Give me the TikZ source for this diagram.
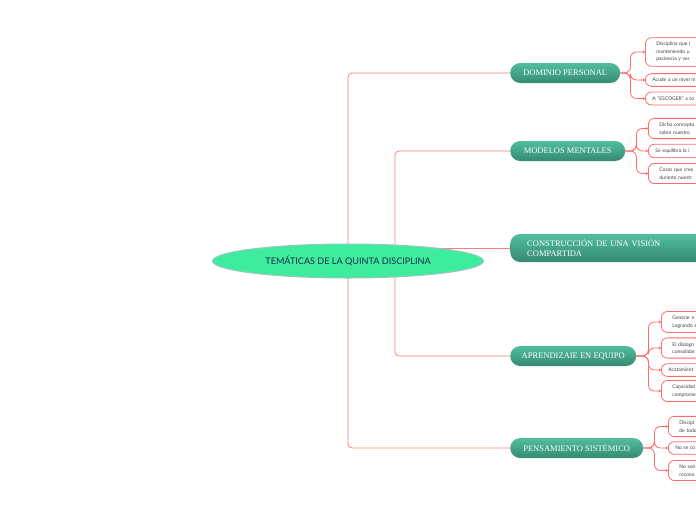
\documentclass[tikz,border=0pt]{standalone}
\usepackage{fontspec}
\setmainfont{Lato}
\newfontfamily\slabfont{Liberation Serif}
\usetikzlibrary{arrows.meta,shapes.geometric,backgrounds}
\definecolor{linkred}{HTML}{FF7B7B}
\definecolor{leafred}{HTML}{FF6A6A}
\definecolor{tealtop}{HTML}{52BE9F}
\definecolor{tealbot}{HTML}{348A70}
\definecolor{mint}{HTML}{3DEC9D}
\definecolor{rimgray}{HTML}{9DC3C4}
\definecolor{navy}{HTML}{1A2B48}

\begin{document}
\begin{tikzpicture}[x=1pt,y=-1pt,
    rootnode/.style={ellipse, fill=mint, draw=rimgray, line width=1pt, minimum width=271pt, minimum height=34pt, inner sep=0pt, text=navy, font=\fontsize{9.1}{11}\selectfont},
    mainnode/.style={rectangle, rounded corners=10pt, top color=tealtop, bottom color=tealbot, draw=none, text=white, minimum height=20pt, inner sep=0pt, anchor=west, font=\slabfont\fontsize{8.5}{10}\selectfont},
    leafnode/.style={rectangle, rounded corners=6pt, draw=leafred, fill=white, line width=0.8pt, anchor=west, text width=80pt, align=left, inner ysep=4.5pt, inner xsep=7pt, text=black!75, font=\fontsize{5}{7.5}\selectfont},
    longleaf/.style={leafnode, inner xsep=11pt},
    conn/.style={draw=linkred, line width=0.8pt, rounded corners=4pt},
    twig/.style={draw=leafred, line width=0.8pt, rounded corners=6pt, -{Triangle[length=2pt,width=3pt]}}]
  \useasboundingbox (0,0) rectangle (696,520);
  \clip (0,0) rectangle (696,520);

  \node[rootnode] (root) at (348,261) {TEMÁTICAS DE LA QUINTA DISCIPLINA};

  \node[mainnode, minimum width=110pt] (dom) at (510,73) {DOMINIO PERSONAL};
  \node[mainnode, minimum width=115pt] (mod) at (510,151) {MODELOS MENTALES};
  \node[mainnode, minimum height=28pt, text width=190pt, inner xsep=17pt, align=left] (con) at (510,248) {CONSTRUCCIÓN DE UNA VISIÓN\\COMPARTIDA};
  \node[mainnode, minimum width=126pt] (apr) at (510,356) {APRENDIZAIE EN EQUIPO};
  \node[mainnode, minimum width=133pt] (pen) at (510,448) {PENSAMIENTO SISTÉMICO};

  \node[longleaf] (d1) at (645,52) {Disciplina que l\\manteniendo u\\paciencia y ver};
  \node[leafnode] (d2) at (645,80) {Acude a un nivel m};
  \node[leafnode] (d3) at (645,98.5) {A "ESCOGER" a to};

  \node[longleaf] (m1) at (648,128.5) {Dicho concepto\\sobre nuestro};
  \node[leafnode] (m2) at (648,151) {Se equilibra la i};
  \node[longleaf] (m3) at (648,173.5) {Cosas que crea\\durante nuestr};

  \node[longleaf] (a1) at (661,322) {Generar e\\Logrando e};
  \node[longleaf] (a2) at (661,348) {El dialogo\\consolidar};
  \node[leafnode] (a3) at (661,370) {Acatamient};
  \node[longleaf] (a4) at (661,391) {Capacidad\\comprome};

  \node[longleaf] (p1) at (668,426.5) {Discipl\\de todo};
  \node[leafnode] (p2) at (668,448) {No se co};
  \node[longleaf] (p3) at (668,470.5) {No son\\recono};

  \begin{scope}[on background layer]
    \draw[conn] (root.center) |- (dom.west);
    \draw[conn] (root.center) |- (pen.west);
    \draw[conn] ([xshift=47pt]root.center) |- (mod.west);
    \draw[conn] ([xshift=47pt]root.center) |- (apr.west);
    \draw[conn] (con.west) -- (con.west -| root.center);
  \end{scope}

  \foreach \leaf in {d1,d2,d3}
    \draw[twig] (dom.east) -- ++(10,0) |- (\leaf.west);
  \foreach \leaf in {m1,m2,m3}
    \draw[twig] (mod.east) -- ++(11,0) |- (\leaf.west);
  \foreach \leaf in {a1,a2,a3,a4}
    \draw[twig] (apr.east) -- ++(12,0) |- (\leaf.west);
  \foreach \leaf in {p1,p2,p3}
    \draw[twig] (pen.east) -- ++(11,0) |- (\leaf.west);
\end{tikzpicture}
\end{document}
